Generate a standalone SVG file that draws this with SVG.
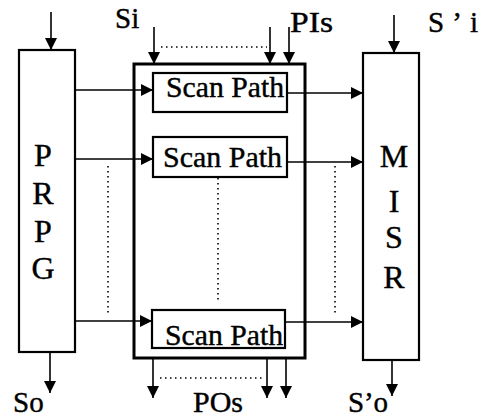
<svg xmlns="http://www.w3.org/2000/svg" width="481" height="419" viewBox="0 0 481 419" font-family="'Liberation Serif', 'DejaVu Serif', 'Times New Roman', serif">
<defs>
<style>
.box{fill:#fff;stroke:#000;stroke-width:2.2}
.big{fill:none;stroke:#000;stroke-width:3}
.arr{fill:none;stroke:#000;stroke-width:1.6;marker-end:url(#ah)}
.dot{fill:none;stroke:#000;stroke-width:1.6;stroke-dasharray:1.5 3.5}
.t{font-size:29px;fill:#000;stroke:#000;stroke-width:0.4}
.l{font-size:32px;text-anchor:middle;fill:#000;stroke:#000;stroke-width:0.4}
</style>
<marker id="ah" viewBox="0 0 12 12" refX="12" refY="6" markerWidth="12" markerHeight="12" markerUnits="userSpaceOnUse" orient="auto">
<path d="M0,0 L12,6 L0,12 z" fill="#000"/>
</marker>
</defs>
<g id="connectors">
<line class="arr" x1="51" y1="12" x2="51" y2="50"/>
<line class="arr" x1="154" y1="27" x2="154" y2="64"/>
<line class="arr" x1="270" y1="27" x2="270" y2="64"/>
<line class="arr" x1="289" y1="27" x2="289" y2="64"/>
<line class="arr" x1="394" y1="15" x2="394" y2="53"/>
<line class="dot" x1="161" y1="47" x2="267" y2="47"/>
<line class="arr" x1="75" y1="90" x2="153" y2="90"/>
<line class="arr" x1="287" y1="93" x2="363" y2="93"/>
<line class="arr" x1="75" y1="159" x2="153" y2="159"/>
<line class="arr" x1="287" y1="162" x2="363" y2="162"/>
<line class="arr" x1="75" y1="321" x2="152" y2="321"/>
<line class="arr" x1="285" y1="322" x2="363" y2="322"/>
<line class="dot" x1="108" y1="166" x2="108" y2="315"/>
<line class="dot" x1="218" y1="178" x2="218" y2="302"/>
<line class="dot" x1="335" y1="166" x2="335" y2="316"/>
<line class="arr" x1="50" y1="352" x2="50" y2="393"/>
<line class="arr" x1="153" y1="358" x2="153" y2="398"/>
<line class="arr" x1="267" y1="358" x2="267" y2="398"/>
<line class="arr" x1="286" y1="358" x2="286" y2="398"/>
<line class="dot" x1="160" y1="378" x2="262" y2="378"/>
<line class="arr" x1="392" y1="360" x2="392" y2="396"/>
</g>
<g id="prpg">
<rect class="box" x="19" y="50" width="56" height="302"/>
<text class="l" x="43" y="166">P</text>
<text class="l" x="43" y="204">R</text>
<text class="l" x="43" y="242">P</text>
<text class="l" x="43" y="279">G</text>
</g>
<g id="cut">
<rect class="big" x="134" y="64" width="171" height="294"/>
</g>
<g id="scan1">
<rect class="box" x="153" y="73" width="134" height="39"/>
<text class="t" x="166" y="97" textLength="118" lengthAdjust="spacingAndGlyphs">Scan Path</text>
</g>
<g id="scan2">
<rect class="box" x="153" y="137" width="134" height="40"/>
<text class="t" x="163" y="167" textLength="119" lengthAdjust="spacingAndGlyphs">Scan Path</text>
</g>
<g id="scan3">
<rect class="box" x="152" y="310" width="133" height="38"/>
<text class="t" x="165" y="345" textLength="118" lengthAdjust="spacingAndGlyphs">Scan Path</text>
</g>
<g id="misr">
<rect class="box" x="363" y="53" width="56" height="307"/>
<text class="l" x="394" y="167">M</text>
<text class="l" x="394" y="212">I</text>
<text class="l" x="394" y="248">S</text>
<text class="l" x="394" y="288">R</text>
</g>
<g id="labels">
<text class="t" x="115" y="28">Si</text>
<text class="t" x="290" y="32" textLength="43" lengthAdjust="spacingAndGlyphs">PIs</text>
<text class="t" x="428" y="32" textLength="50" lengthAdjust="spacing">S’i</text>
<text class="t" x="13" y="412">So</text>
<text class="t" x="193" y="412" textLength="50" lengthAdjust="spacingAndGlyphs">POs</text>
<text class="t" x="348" y="412" textLength="40" lengthAdjust="spacing">S’o</text>
</g>
</svg>
